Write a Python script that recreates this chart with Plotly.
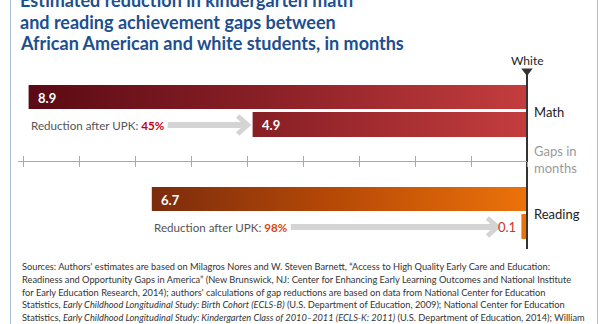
import plotly.graph_objects as go

# ---------------- data ----------------
subjects = ["Math", "Reading"]
gap_before = [8.9, 6.7]          # months, before UPK
gap_after = [4.9, 0.1]           # months, after UPK
reduction_pct = [45, 98]
tick_months = [0, 1, 2, 3, 4, 5, 6, 7, 8, 9]
title_lines = [
    "Estimated reduction in kindergarten math",
    "and reading achievement gaps between",
    "African American and white students, in months",
]
source_lines = [
    "Sources: Authors' estimates are based on Milagros Nores and W. Steven Barnett, \u201cAccess to High Quality Early Care and Education:",
    "Readiness and Opportunity Gaps in America\u201d (New Brunswick, NJ: Center for Enhancing Early Learning Outcomes and National Institute",
    "for Early Education Research, 2014); authors' calculations of gap reductions are based on data from National Center for Education",
    "Statistics, <i>Early Childhood Longitudinal Study: Birth Cohort (ECLS-B)</i> (U.S. Department of Education, 2009); National Center for Education",
    "Statistics, <i>Early Childhood Longitudinal Study: Kindergarten Class of 2010\u20132011 (ECLS-K: 2011)</i> (U.S. Department of Education, 2014); William",
]

# ---------------- styles ----------------
W, H = 614, 324
PX = 56.0        # pixels per month
ZERO = 527.0     # pixel x of the "White" reference line
row_center = [111, 213]
scales = [
    [[0, "#5a0a14"], [0.5, "#8c2127"], [1, "#c43d3e"]],
    [[0, "#7b2c0d"], [0.5, "#b84a06"], [1, "#ec720a"]],
]
pct_colors = ["#c0001a", "#d9480f"]
small_label_colors = ["#ffffff", "#c8362d"]
FONT = "Lato, 'Open Sans', sans-serif"
TITLE_FONT = "Lato, sans-serif"
ARROW = "#d4d4d4"


def px2m(p):
    return p / PX


fig = go.Figure()
ann = []

for i, subj in enumerate(subjects):
    yc = row_center[i]
    b, a = gap_before[i], gap_after[i]
    grad = dict(type="horizontal", colorscale=scales[i], start=-b, stop=0)
    # before bar
    t0, b0 = yc - 26, yc - 2
    fig.add_trace(go.Scatter(x=[-b, 0, 0, -b, -b], y=[t0, t0, b0, b0, t0], mode="lines",
                             line=dict(width=0), fill="toself", fillgradient=grad,
                             hoverinfo="skip", showlegend=False))
    # after bar
    t1, b1 = yc + 1, yc + 26
    fig.add_trace(go.Scatter(x=[-a, 0, 0, -a, -a], y=[t1, t1, b1, b1, t1], mode="lines",
                             line=dict(width=0), fill="toself", fillgradient=grad,
                             hoverinfo="skip", showlegend=False))
    # value labels
    ann.append(dict(x=-b, y=(t0 + b0) / 2 + 1, xref="x", yref="y", xanchor="left", yanchor="middle",
                    xshift=7, text=f"<b>{b}</b>", showarrow=False,
                    font=dict(family=FONT, size=13, color="white")))
    yl = yc + 14
    inside = a * PX > 30
    if inside:
        ann.append(dict(x=-a, y=yl, xref="x", yref="y", xanchor="left", yanchor="middle",
                        xshift=7, text=f"<b>{a}</b>", showarrow=False,
                        font=dict(family=FONT, size=13, color="white")))
        tip = -a - px2m(5)
    else:
        ann.append(dict(x=-a, y=yl, xref="x", yref="y", xanchor="right", yanchor="middle",
                        xshift=-3, text=f"{a}", showarrow=False,
                        font=dict(family=FONT, size=13, color=small_label_colors[1])))
        tip = -a - px2m(24)
    # reduction text
    ann.append(dict(x=-b, y=yl, xref="x", yref="y", xanchor="left", yanchor="middle",
                    text=f"Reduction after UPK: <b><span style='color:{pct_colors[i]}'>{reduction_pct[i]}%</span></b>",
                    showarrow=False, font=dict(family=FONT, size=11.6, color="#555555")))
    # arrow
    start = -b + px2m(139)
    fig.add_trace(go.Scatter(x=[start, tip - px2m(2)], y=[yl, yl], mode="lines",
                             line=dict(color=ARROW, width=6), hoverinfo="skip", showlegend=False))
    fig.add_trace(go.Scatter(x=[tip - px2m(10), tip, tip - px2m(10)], y=[yl - 9, yl, yl + 9],
                             mode="lines", line=dict(color=ARROW, width=5),
                             hoverinfo="skip", showlegend=False))
    # subject label
    ann.append(dict(x=0, y=yc + 1, xref="x", yref="y", xanchor="left", yanchor="middle", xshift=5,
                    text=subj, showarrow=False, font=dict(family=FONT, size=13, color="#222222")))

# White reference line
fig.add_trace(go.Scatter(x=[0, 0], y=[71, 249], mode="lines", line=dict(color="#333333", width=2),
                         hoverinfo="skip", showlegend=False))
fig.add_trace(go.Scatter(x=[0], y=[71], mode="markers",
                         marker=dict(symbol="triangle-down", size=10, color="#333333"),
                         hoverinfo="skip", showlegend=False))
ann.append(dict(x=0, y=60, xref="x", yref="y", xanchor="center", yanchor="middle", text="White",
                showarrow=False, font=dict(family=FONT, size=12, color="#222222")))
ann.append(dict(x=0, y=159, xref="x", yref="y", xanchor="left", yanchor="middle", xshift=5,
                text="Gaps in<br>months", showarrow=False, align="left",
                font=dict(family=FONT, size=13, color="#9a9a9a")))

# invisible traces to create the tick axes
for ax in ["x2", "x3"]:
    fig.add_trace(go.Scatter(x=[-1], y=[-100], xaxis=ax, yaxis="y", mode="markers",
                             marker=dict(opacity=0), hoverinfo="skip", showlegend=False))

# title
title_y = [0.0, 21.5, 42.5]
for t, y in zip(title_lines, title_y):
    ann.append(dict(x=18 / W, y=y, xref="paper", yref="y", xanchor="left", yanchor="middle",
                    text=f"<b>{t}</b>", showarrow=False,
                    font=dict(family=TITLE_FONT, size=18, color="#1d4f8f")))
# sources
for k, t in enumerate(source_lines):
    ann.append(dict(x=20 / W, y=266.7 + 12.65 * k, xref="paper", yref="y", xanchor="left",
                    yanchor="middle", text=t, showarrow=False,
                    font=dict(family=FONT, size=9.25, color="#333333")))

axis_pos = (H - 161) / H
tick_axis = dict(domain=[18 / W, ZERO / W], range=[-(ZERO - 18) / PX, 0], anchor="free",
                 position=axis_pos, showline=True, linecolor="#aaaaaa", linewidth=1,
                 tickmode="array", tickvals=[-m for m in tick_months], ticklen=5,
                 tickcolor="#aaaaaa", tickwidth=1, showticklabels=False, showgrid=False,
                 zeroline=False, fixedrange=True)

fig.update_layout(
    width=W, height=H, margin=dict(l=0, r=0, t=0, b=0),
    paper_bgcolor="white", plot_bgcolor="rgba(0,0,0,0)",
    showlegend=False, hovermode=False,
    xaxis=dict(domain=[0, 1], range=[-ZERO / PX, (W - ZERO) / PX], visible=False, fixedrange=True),
    yaxis=dict(domain=[0, 1], range=[H, 0], visible=False, fixedrange=True),
    xaxis2=dict(tick_axis, ticks="outside"),
    xaxis3=dict(tick_axis, ticks="inside"),
    annotations=ann,
    shapes=[
        dict(type="line", xref="paper", yref="paper", x0=10.5 / W, x1=10.5 / W, y0=0, y1=1,
             line=dict(color="#a9bfd9", width=1)),
        dict(type="line", xref="paper", yref="paper", x0=597.5 / W, x1=597.5 / W, y0=0, y1=1,
             line=dict(color="#a9bfd9", width=1)),
    ],
)

fig.write_html("out.html", config={"displayModeBar": False})
